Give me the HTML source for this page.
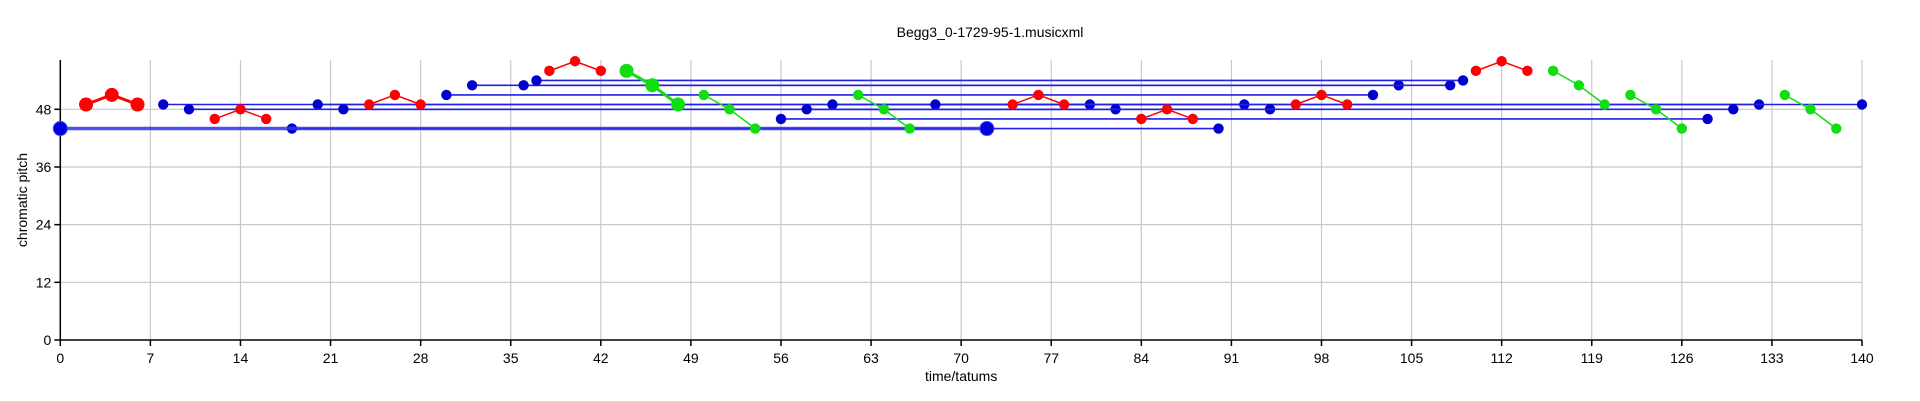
<!DOCTYPE html>
<html><head><meta charset="utf-8"><style>
html,body{margin:0;padding:0;background:#fff;}
svg{display:block;font-family:"Liberation Sans",Arial,sans-serif;}
</style></head><body>
<svg id="chart" width="1920" height="401" viewBox="0 0 1920 401"></svg>
<script>
const xTicks=[0,7,14,21,28,35,42,49,56,63,70,77,84,91,98,105,112,119,126,133,140];
const yTicks=[0,12,24,36,48];
// blue sustained pairs: [startTime, endTime, pitch]
const bluePairStarts=[8,20,60,68,10,22,58,56,30,32,36,37,18];
const bluePairEnds=[80,92,132,140,82,94,130,128,102,104,108,109,90];
const bluePairPitch=[49,49,49,49,48,48,48,46,51,53,53,54,44];
const bigBlueTimes=[0,72];
const bigBluePitch=[44,44];
// red motifs (3 notes each)
const redTimes=[[2,4,6],[12,14,16],[24,26,28],[38,40,42],[74,76,78],[84,86,88],[96,98,100],[110,112,114]];
const redPitches=[[49,51,49],[46,48,46],[49,51,49],[56,58,56],[49,51,49],[46,48,46],[49,51,49],[56,58,56]];
// green motifs
const greenTimes=[[44,46,48],[50,52,54],[62,64,66],[116,118,120],[122,124,126],[134,136,138]];
const greenPitches=[[56,53,49],[51,48,44],[51,48,44],[56,53,49],[51,48,44],[51,48,44]];

const X0=60.3,X1=1862,Y0=340,YS=4.806;
const xs=t=>X0+(X1-X0)*t/140;
const ys=p=>Y0-p*YS;
const svg=document.getElementById('chart');
const NS='http://www.w3.org/2000/svg';
function mk(tag,attrs,parent){const e=document.createElementNS(NS,tag);for(const k in attrs)e.setAttribute(k,attrs[k]);(parent||svg).appendChild(e);return e;}
const yTop=60;
// grid
const grid=mk('g',{});


xTicks.forEach(t=>{if(t>0){const l=mk('line',{x1:xs(t),x2:xs(t),y1:yTop,y2:Y0,stroke:'#c8c8c8','stroke-width':1.2},grid);

}});
yTicks.forEach(p=>{if(p>0){const l=mk('line',{x1:X0,x2:X1,y1:ys(p),y2:ys(p),stroke:'#c8c8c8','stroke-width':1.2},grid);

}});
// axes
const ax=mk('g',{stroke:'#000','stroke-width':1.5});


mk('line',{x1:X0,x2:X0,y1:yTop,y2:Y0},ax);
mk('line',{x1:X0,x2:X1,y1:Y0,y2:Y0},ax);
xTicks.forEach(t=>{mk('line',{x1:xs(t),x2:xs(t),y1:Y0,y2:Y0+6},ax);
const tx=mk('text',{x:xs(t),y:Y0+23,'text-anchor':'middle','font-size':14,fill:'#000',stroke:'none'});
tx.textContent=t;

});
yTicks.forEach(p=>{mk('line',{x1:X0-6,x2:X0,y1:ys(p),y2:ys(p)},ax);
const tx=mk('text',{x:X0-9,y:ys(p)+5,'text-anchor':'end','font-size':14,fill:'#000',stroke:'none'});
tx.textContent=p;

});
const xt=mk('text',{x:(X0+X1)/2,y:381,'text-anchor':'middle','font-size':14});
xt.textContent='time/tatums';


const yt=mk('text',{x:0,y:0,'text-anchor':'middle','font-size':14,transform:'translate(27,200) rotate(-90)'});
yt.textContent='chromatic pitch';


const tt=mk('text',{x:990,y:37,'text-anchor':'middle','font-size':14});
tt.textContent='Begg3_0-1729-95-1.musicxml';


// blue pairs
bluePairStarts.forEach((s,i)=>{const g=mk('g',{});


const y=ys(bluePairPitch[i]);
mk('line',{x1:xs(s),x2:xs(bluePairEnds[i]),y1:y,y2:y,stroke:'#2020e8','stroke-width':1.6},g);
mk('circle',{cx:xs(s),cy:y,r:5.2,fill:'#0000cc'},g);
mk('circle',{cx:xs(bluePairEnds[i]),cy:y,r:5.2,fill:'#0000cc'},g);});
const bg=mk('g',{});


mk('line',{x1:xs(bigBlueTimes[0]),x2:xs(bigBlueTimes[1]),y1:ys(bigBluePitch[0]),y2:ys(bigBluePitch[1]),stroke:'#3030ee','stroke-width':3.5,'stroke-opacity':0.85},bg);
bigBlueTimes.forEach((t,i)=>mk('circle',{cx:xs(t),cy:ys(bigBluePitch[i]),r:7,fill:'#0000dd',stroke:'#4040ff','stroke-width':1},bg));
function motif(times,pitches,col,name){times.forEach((ts,i)=>{const big=i===0;const g=mk('g',{});


mk('polyline',{points:ts.map((t,j)=>xs(t)+','+ys(pitches[i][j])).join(' '),fill:'none',stroke:col,'stroke-width':big?3:1.5},g);
ts.forEach((t,j)=>mk('circle',{cx:xs(t),cy:ys(pitches[i][j]),r:big?7:5.2,fill:col},g));});}
motif(redTimes,redPitches,'#ff0000','red-motif');
motif(greenTimes,greenPitches,'#11dd11','green-motif');
</script>
</body></html>
